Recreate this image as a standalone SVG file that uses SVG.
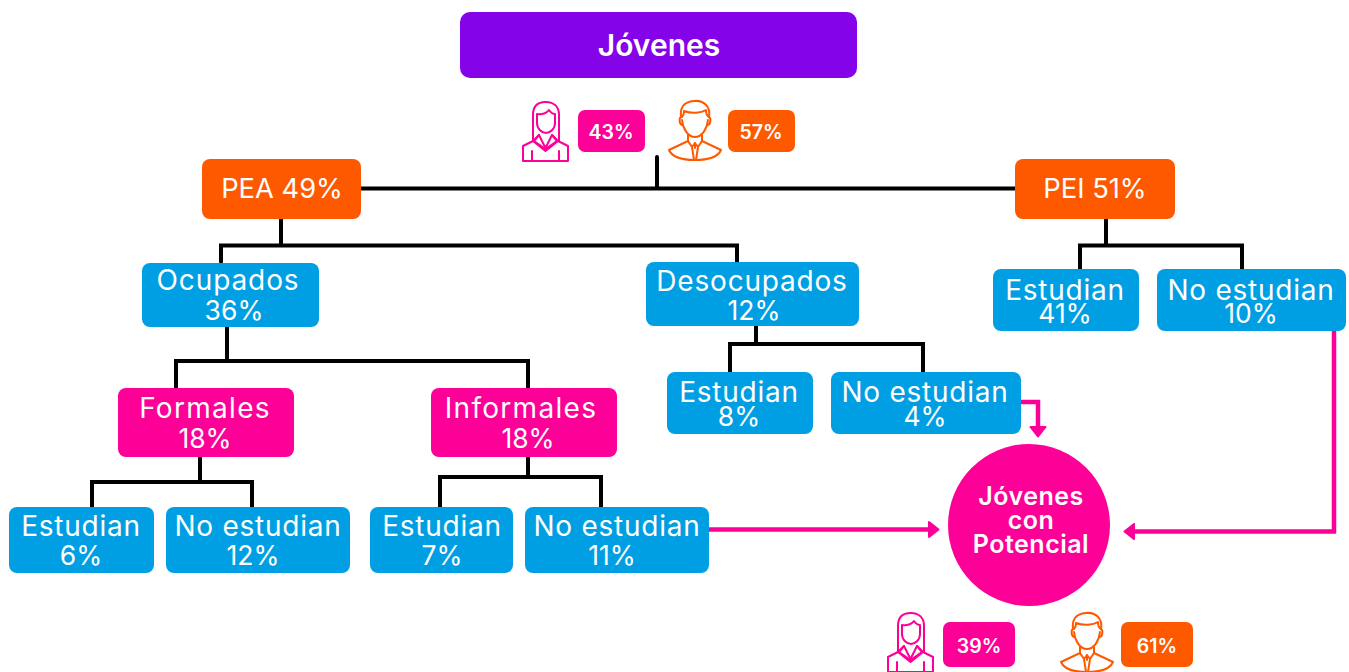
<svg xmlns="http://www.w3.org/2000/svg" width="1349" height="672" viewBox="0 0 1349 672">
<style>
.t{font-family:"Inter","Noto Sans",sans-serif;fill:#fff;text-anchor:middle;font-size:28px;font-weight:400}
.h{font-size:27.300px}
.w{letter-spacing:.75px}
.n{font-size:26.500px;letter-spacing:0}
.b{font-weight:600;font-size:19.500px}
.c{font-weight:600;font-size:25px;letter-spacing:.5px}
.blue{fill:#009fe3}.pink{fill:#fc0098}.or{fill:#ff5900}
.k{fill:none;stroke:#000;stroke-width:4;stroke-linecap:round;stroke-linejoin:miter}
.p{fill:none;stroke:#fc0098;stroke-width:4.500}
.ic{fill:none;stroke-width:2;stroke-linejoin:round;stroke-linecap:round}
</style>
<defs>
<marker id="ah" markerUnits="userSpaceOnUse" markerWidth="14" markerHeight="18" refX="2" refY="9" orient="auto"><path d="M2 1.500L11.500 9L2 16.500Z" fill="#fc0098" stroke="#fc0098" stroke-width="2" stroke-linejoin="round"/></marker>
<symbol id="woman" overflow="visible" viewBox="0 0 46 60" width="46" height="60"><g class="ic" stroke="currentColor">
<path d="M11 40V14C11 5 16 1 23.500 1C31 1 37 5 37 14V40"/>
<path d="M15 13C20 14 25 12 27 9C29 12 32 13 33 13V22C33 28 28 32 24 32C20 32 15 28 15 22Z"/>
<path d="M1 45L11 40L17 34L23.500 47L30 34L36 40L46 45V60H1Z"/>
<path d="M11 40L23.500 50L36 40M17 34L12 40L23.500 48M30 34L35 40L23.500 48M10 50V60M37 50V60"/>
</g></symbol>
<symbol id="man" overflow="visible" viewBox="0 0 54 60" width="54" height="60"><g class="ic" stroke="currentColor">
<path d="M14 25C11 24 11 18 13 17C12 8 15 2 26 1C35 0 43 6 41 17C43 18 43 24 40 25"/>
<path d="M14 17C16 15 16 13 16 11C24 14 33 13 38 10C38 13 39 16 41 17M14 20C15 29 20 37 27 37C34 37 39 29 40 20"/>
<path d="M20 35V41L1 50C4 57 15 60 27 60C39 60 50 57 53 50L34 41V35"/>
<path d="M20 41L24 47L27 43L30 47L34 41M24 47L26 60M30 47L28 60M27 43V48"/>
</g></symbol>
</defs>
<g id="connectors">
<path class="k" d="M657 157V188.500M361 188.500H1015M281 218V245.500M221 262V245.500H737V262M1106 218V245.500M1080 269V245.500H1242V269M227 327V361M176 388V361H528V388M756 326V344M730 372V344H923V372M200 456V482M92 507V482H252V507M528 456V477M440 507V477H601V507"/>
<path class="p" d="M1020 402H1038V427" marker-end="url(#ah)"/>
<path class="p" d="M708 529.500H929" marker-end="url(#ah)"/>
<path class="p" d="M1334 331V531.500H1134" marker-end="url(#ah)"/>
</g>
<g id="n-jovenes"><rect x="460" y="12" width="397" height="66" rx="10" fill="#8403e8"/><text class="t" style="font-weight:600;font-size:30px" x="659" y="56">Jóvenes</text></g>
<g id="icon-w1" style="color:#fc0098"><use href="#woman" x="522" y="101"/></g>
<g id="n-43"><rect class="pink" x="578" y="110" width="67" height="42" rx="7"/><text class="t b" x="611" y="139">43%</text></g>
<g id="icon-m1" style="color:#ff5900"><use href="#man" x="668" y="100"/></g>
<g id="n-57"><rect class="or" x="728" y="110" width="67" height="42" rx="7"/><text class="t b" x="761" y="139">57%</text></g>
<g id="n-pea"><rect class="or" x="202" y="159" width="159" height="60" rx="8"/><text class="t h" x="282" y="198">PEA 49%</text></g>
<g id="n-pei"><rect class="or" x="1015" y="159" width="160" height="60" rx="8"/><text class="t h" x="1095" y="198">PEI 51%</text></g>
<g id="n-ocupados"><rect class="blue" x="142" y="263" width="177" height="64" rx="8"/><text class="t"><tspan x="228" y="290" style="letter-spacing:.9px">Ocupados</tspan><tspan class="n" x="234" y="320">36%</tspan></text></g>
<g id="n-desocupados"><rect class="blue" x="646" y="262" width="213" height="64" rx="8"/><text class="t"><tspan x="752" y="291" style="letter-spacing:.8px">Desocupados</tspan><tspan class="n" x="754" y="320">12%</tspan></text></g>
<g id="n-pei-est"><rect class="blue" x="993" y="269" width="146" height="62" rx="8"/><text class="t"><tspan class="w" x="1065" y="300">Estudian</tspan><tspan class="n" x="1065" y="323">41%</tspan></text></g>
<g id="n-pei-no"><rect class="blue" x="1157" y="269" width="189" height="62" rx="8"/><text class="t"><tspan class="w" x="1251" y="300">No estudian</tspan><tspan class="n" x="1251" y="323">10%</tspan></text></g>
<g id="n-formales"><rect class="pink" x="118" y="388" width="176" height="69" rx="8"/><text class="t"><tspan x="205" y="418" style="letter-spacing:1.300px">Formales</tspan><tspan class="n" x="205" y="448">18%</tspan></text></g>
<g id="n-informales"><rect class="pink" x="431" y="388" width="186" height="69" rx="8"/><text class="t"><tspan x="521" y="418" style="letter-spacing:1.300px">Informales</tspan><tspan class="n" x="528" y="448">18%</tspan></text></g>
<g id="n-des-est"><rect class="blue" x="667" y="372" width="146" height="62" rx="8"/><text class="t"><tspan class="w" x="739" y="402">Estudian</tspan><tspan class="n" x="739" y="426">8%</tspan></text></g>
<g id="n-des-no"><rect class="blue" x="831" y="372" width="190" height="62" rx="8"/><text class="t"><tspan class="w" x="925" y="402">No estudian</tspan><tspan class="n" x="925" y="426">4%</tspan></text></g>
<g id="n-for-est"><rect class="blue" x="9" y="507" width="145" height="66" rx="8"/><text class="t"><tspan class="w" x="81" y="536">Estudian</tspan><tspan class="n" x="81" y="565">6%</tspan></text></g>
<g id="n-for-no"><rect class="blue" x="166" y="507" width="184" height="66" rx="8"/><text class="t"><tspan class="w" x="258" y="536">No estudian</tspan><tspan class="n" x="253" y="565">12%</tspan></text></g>
<g id="n-inf-est"><rect class="blue" x="370" y="507" width="143" height="66" rx="8"/><text class="t"><tspan class="w" x="442" y="536">Estudian</tspan><tspan class="n" x="442" y="565">7%</tspan></text></g>
<g id="n-inf-no"><rect class="blue" x="525" y="507" width="184" height="66" rx="8"/><text class="t"><tspan class="w" x="617" y="536">No estudian</tspan><tspan class="n" x="612" y="565">11%</tspan></text></g>
<g id="n-potencial"><circle class="pink" cx="1029" cy="525" r="81"/><text class="t c"><tspan x="1031" y="505">Jóvenes</tspan><tspan x="1031" y="529">con</tspan><tspan x="1031" y="553">Potencial</tspan></text></g>
<g id="icon-w2" style="color:#fc0098"><use href="#woman" x="887" y="612"/></g>
<g id="n-39"><rect class="pink" x="943" y="622" width="72" height="45" rx="7"/><text class="t b" x="979" y="653">39%</text></g>
<g id="icon-m2" style="color:#ff5900"><use href="#man" x="1060" y="612"/></g>
<g id="n-61"><rect class="or" x="1121" y="622" width="72" height="45" rx="7"/><text class="t b" x="1157" y="653">61%</text></g>
</svg>
